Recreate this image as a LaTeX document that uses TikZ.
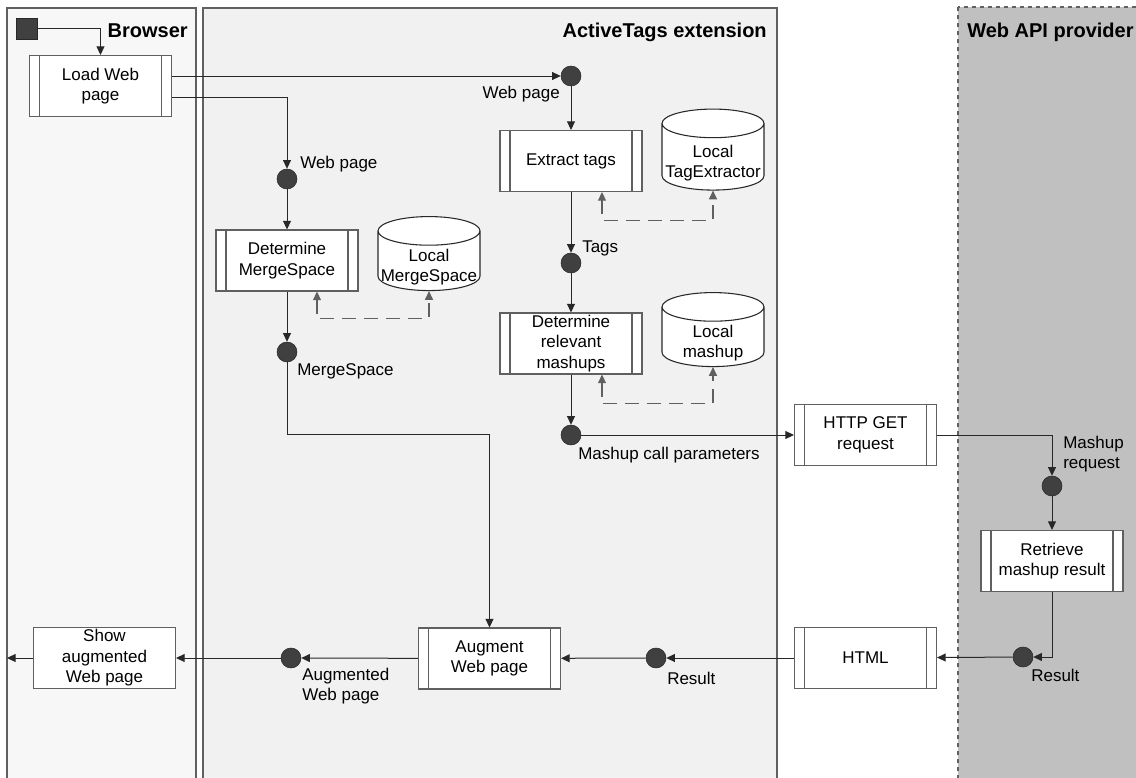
\documentclass[tikz,border=0pt]{standalone}
\usepackage{fontspec}
\setmainfont{Liberation Sans}
\definecolor{LaneLine}{RGB}{96,96,96}
\definecolor{BrowserFill}{RGB}{247,247,247}
\definecolor{ExtFill}{RGB}{241,241,241}
\definecolor{ApiFill}{RGB}{192,192,192}
\definecolor{Dot}{RGB}{64,64,64}
\definecolor{Ink}{RGB}{40,40,40}
\usetikzlibrary{arrows.meta, shapes.geometric, calc}

\begin{document}
\begin{tikzpicture}[x=0.75pt, y=-0.75pt,
    every node/.style={font=\fontsize{12.75}{15.4}\selectfont},
    lane/.style={draw=LaneLine, line width=0.8pt},
    head/.style={font=\fontsize{15}{18}\selectfont\bfseries, inner sep=0pt},
    task/.style={draw=LaneLine, fill=white, line width=0.8pt, minimum width=106.5pt, minimum height=45.75pt, align=center, inner sep=0pt},
    subtask/.style={task, path picture={\draw[LaneLine, line width=0.8pt]
        ([xshift=7.5pt]path picture bounding box.north west) -- ([xshift=7.5pt]path picture bounding box.south west)
        ([xshift=-7.5pt]path picture bounding box.north east) -- ([xshift=-7.5pt]path picture bounding box.south east);}},
    store/.style={cylinder, shape border rotate=90, aspect=0.3, draw=Ink, fill=white, line width=0.8pt, minimum width=76.5pt, minimum height=55.5pt, inner sep=0pt},
    storetxt/.style={align=center, inner sep=0pt, yshift=-4.5pt},
    dot/.style={circle, fill=Dot, draw=Ink, minimum size=15pt, inner sep=0pt},
    lbl/.style={inner sep=0pt, align=left},
    link/.style={draw=Ink, line width=0.75pt, -{Triangle[length=6.5pt, width=6pt]}},
    query/.style={draw=LaneLine, line width=0.8pt, dash pattern=on 10.5pt off 6pt, {Triangle[length=6.5pt, width=6pt]}-{Triangle[length=6.5pt, width=6pt]}},
]
    \useasboundingbox (0,0) rectangle (1136,778);

    % lanes
    \draw[lane, fill=BrowserFill] (7,8) rectangle (196,800);
    \draw[lane, fill=ExtFill] (203,8) rectangle (777,800);
    \draw[lane, fill=ApiFill, dashed] (958,7) rectangle (1150,800);
    \node[head, anchor=base east] (hbrowser) at (188,37) {Browser};
    \node[head, anchor=base east] (hext) at (767,37) {ActiveTags extension};
    \node[head, anchor=base west] (hapi) at (967,37) {Web API provider};

    % Browser
    \node[draw=Ink, fill=Dot, minimum size=15.75pt, inner sep=0pt] (start) at (26.5,28.5) {};
    \node[subtask] (load) at (100.5,86) {Load Web\\page};
    \node[task] (show) at (104.5,658) {Show\\augmented\\Web page};
    \coordinate (exit) at (7,658);

    % tag extraction
    \node[dot] (webpage) at (571,76) {};
    \node[lbl, anchor=east] (lwebpage) at (560,94) {Web page};
    \node[subtask] (extract) at (571,161) {Extract tags};
    \node[store, minimum height=60.75pt, label={[storetxt]center:{Local\\TagExtractor}}] (tagdb) at (713,157) {\phantom{TagExtractor}};
    \node[dot] (tags) at (571,263) {};
    \node[lbl, anchor=west] (ltags) at (582,248) {Tags};
    \node[subtask] (relevant) at (571,343.5) {Determine\\relevant\\mashups};
    \node[store, label={[storetxt]center:{Local\\mashup}}] (mashdb) at (713,337) {\phantom{TagExtractor}};
    \node[dot] (params) at (571,435) {};
    \node[lbl, anchor=west] (lparams) at (578,455) {Mashup call parameters};

    % MergeSpace
    \node[dot] (page) at (287,179) {};
    \node[lbl, anchor=west] (lpage) at (300,164) {Web page};
    \node[subtask] (merge) at (287,260.5) {Determine\\MergeSpace};
    \node[store, label={[storetxt]center:{Local\\MergeSpace}}] (mergedb) at (429,261) {\phantom{TagExtractor}};
    \node[dot] (space) at (287,352) {};
    \node[lbl, anchor=west] (lspace) at (297,371) {MergeSpace};
    \coordinate (bend) at (287,434);

    % mashup call
    \node[subtask] (http) at (865.5,435) {HTTP GET\\request};
    \node[dot] (request) at (1052,486) {};
    \node[lbl, anchor=west] (lrequest) at (1063,454) {Mashup\\request};
    \node[subtask] (retrieve) at (1052,561) {Retrieve\\mashup result};
    \node[dot] (result) at (1023,657) {};
    \node[lbl, anchor=west] (lresult) at (1031,675) {Result};
    \node[subtask] (html) at (865.5,658) {HTML};
    \node[dot] (htmlres) at (656,658) {};
    \node[lbl, anchor=west] (lhtmlres) at (667,678) {Result};
    \node[subtask] (augment) at (489.5,658.5) {Augment\\Web page};
    \node[dot] (augpage) at (291,658) {};
    \node[lbl, anchor=west] (laugpage) at (302,686) {Augmented\\Web page};

    % connectors
    \draw[link] (start.east) -| (load.north);
    \draw[link] (load.east |- webpage) -- (webpage);
    \draw[link] (webpage) -- (extract);
    \draw[query] (extract.south -| 602,0) -- ++(0,28) -| (tagdb.south);
    \draw[link] (extract) -- (tags);
    \draw[link] (tags) -- (relevant);
    \draw[query] (relevant.south -| 602,0) -- ++(0,29) -| (mashdb.south);
    \draw[link] (relevant) -- (params);
    \draw[link] (params) -- (http);
    \draw[link] (http.east) -| (request);
    \draw[link] (request) -- (retrieve);
    \draw[link] (retrieve.south) |- (result);
    \draw[link] (result) -- (html);
    \draw[link] (html) -- (htmlres);
    \draw[link] (htmlres) -- (augment);
    \draw[link] (augment) -- (augpage);
    \draw[link] (augpage) -- (show);
    \draw[link] (show) -- (exit);
    \draw[link] (load.east |- 0,97) -| (page);
    \draw[link] (page) -- (merge);
    \draw[query] (merge.south -| 317,0) -- ++(0,27) -| (mergedb.south);
    \draw[link] (merge) -- (space);
    \draw[link] (space) -- (bend) -| (augment.north);
\end{tikzpicture}
\end{document}
